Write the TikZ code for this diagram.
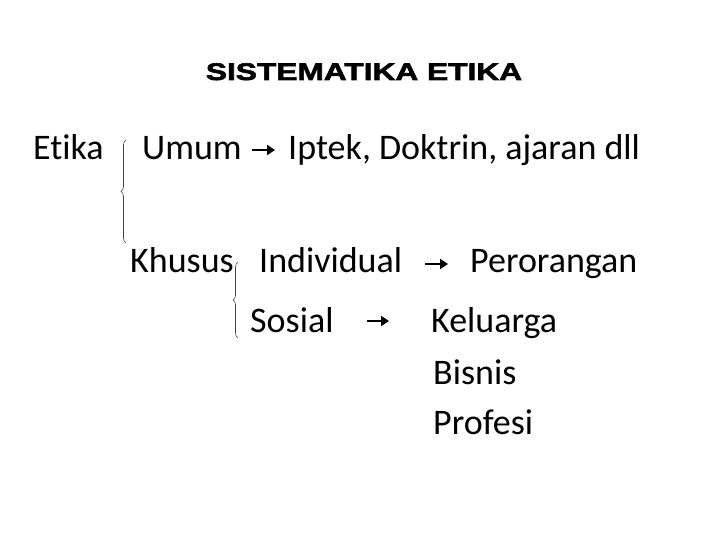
\documentclass[tikz,border=0pt]{standalone}
\usepackage{fontspec}
\setmainfont{Carlito}[Ligatures={NoCommon}]
\newfontfamily\titlefont[BoldFeatures={FakeBold=2.5,FakeStretch=1.32}]{Liberation Sans}
\usetikzlibrary{arrows.meta,decorations.pathreplacing}

\tikzset{
  word/.style={anchor=base west, inner sep=0pt, font=\fontsize{36}{40}\selectfont},
  pointer/.style={line width=2.8pt, -{Triangle[length=8pt,width=10pt]}},
  curly/.style={decorate, decoration={brace, amplitude=5pt}, line width=0.6pt, draw=black!75}
}

\begin{document}
\begin{tikzpicture}[x=1pt,y=1pt,yscale=-1]
\useasboundingbox (0,0) rectangle (720,540);

% Title
\node (title) [anchor=base, inner sep=0pt, font=\titlefont\bfseries\fontsize{24}{28}\selectfont] at (364,80) {SISTEMATIKA ETIKA};

% Text Node
\node (etika) [word] at (33,160) {Etika};
\node (umum) [word] at (142,160) {Umum};
\node (iptek) [word] at (288,160) {Iptek, Doktrin, ajaran dll};
\node (khusus) [word] at (130,272) {Khusus};
\node (indiv) [word] at (259,272) {Individual};
\node (orang) [word] at (470,272) {Perorangan};
\node (sosial) [word] at (250,332) {Sosial};
\node (keluarga) [word] at (431,332) {Keluarga};
\node (bisnis) [word] at (433,384) {Bisnis};
\node (profesi) [word] at (433,434) {Profesi};

% Braces
\coordinate (b1top) at (126,140);
\coordinate (b1bot) at (126,243);
\draw [curly] (b1bot) -- (b1top);
\coordinate (b2top) at (238,262);
\coordinate (b2bot) at (238,338);
\draw [curly] (b2bot) -- (b2top);

% Arrows
\coordinate (a1s) at (252,150);
\coordinate (a1e) at (275,150);
\draw [pointer] (a1s) -- (a1e);
\coordinate (a2s) at (425,264);
\coordinate (a2e) at (448,264);
\draw [pointer] (a2s) -- (a2e);
\coordinate (a3s) at (367,321);
\coordinate (a3e) at (389,321);
\draw [pointer] (a3s) -- (a3e);

\end{tikzpicture}
\end{document}
